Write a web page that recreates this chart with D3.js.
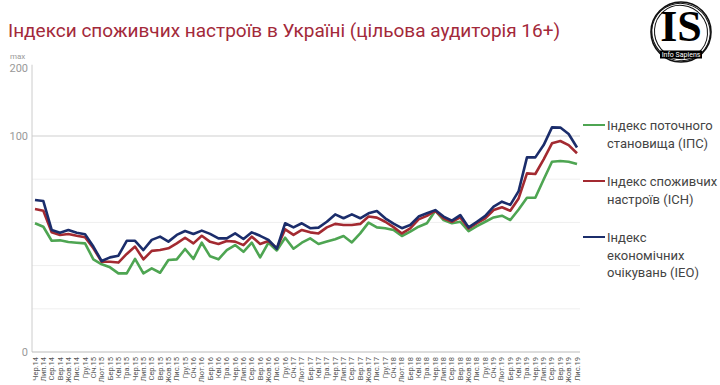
<!DOCTYPE html>
<html>
<head>
<meta charset="utf-8">
<script src="https://cdn.jsdelivr.net/npm/d3@7"></script>
<style>
  body { margin: 0; background: #fff; }
  svg { display: block; font-family: Roboto, "Noto Sans", sans-serif; }
</style>
</head>
<body>
<svg id="chart" width="720" height="385"></svg>
<script>
var months = [
  "Чер.14","Лип.14","Сер.14","Вер.14","Жов.14","Лис.14","Гру.14",
  "Січ.15","Лют.15","Бер.15","Кві.15","Тра.15","Чер.15","Лип.15","Сер.15","Вер.15","Жов.15","Лис.15","Гру.15",
  "Січ.16","Лют.16","Бер.16","Кві.16","Тра.16","Чер.16","Лип.16","Сер.16","Вер.16","Жов.16","Лис.16","Гру.16",
  "Січ.17","Лют.17","Бер.17","Кві.17","Тра.17","Чер.17","Лип.17","Сер.17","Вер.17","Жов.17","Лис.17","Гру.17",
  "Січ.18","Лют.18","Бер.18","Кві.18","Тра.18","Чер.18","Лип.18","Сер.18","Вер.18","Жов.18","Лис.18","Гру.18",
  "Січ.19","Лют.19","Бер.19","Кві.19","Тра.19","Чер.19","Лип.19","Сер.19","Вер.19","Жов.19","Лис.19"
];

// Індекс поточного становища (ІПС)
var ips = [59.6,58.0,51.5,51.7,50.9,50.6,50.3,42.9,40.6,39.2,36.4,36.4,43.1,36.4,38.7,36.7,42.6,42.9,47.7,43.1,50.6,
  44.3,42.9,47.2,49.5,46.4,50.6,43.8,50.6,47.0,52.9,47.8,50.6,52.6,50.0,51.1,52.2,53.7,50.7,54.9,59.9,57.7,57.3,
  56.5,53.7,55.7,58.0,59.6,65.4,61.1,59.6,60.3,56.0,58.3,60.3,62.3,63.1,61.1,66.0,71.4,71.4,79.9,88.1,88.4,88.1,87.0];
// Індекс споживчих настроїв (ІСН)
var ics = [66.2,65.4,55.4,54.2,54.6,53.8,53.1,48.0,41.8,41.8,41.4,45.4,48.8,42.9,46.8,47.2,48.0,50.3,52.9,50.3,53.8,
  51.0,50.0,51.4,51.1,49.5,53.4,50.0,51.4,48.0,56.8,54.2,56.5,55.4,54.9,57.7,59.3,58.8,58.8,59.3,62.7,62.2,60.3,
  57.8,54.9,57.2,61.4,63.0,65.4,61.9,60.3,62.3,57.2,59.6,61.9,65.7,67.0,65.4,71.1,82.7,82.4,89.2,96.6,97.7,95.8,92.0];
// Індекс економічних очікувань (ІЕО)
var ieo = [70.4,69.9,56.5,55.2,56.5,55.2,54.5,48.8,42.1,43.8,44.6,51.5,51.5,47.2,51.9,53.4,51.1,54.2,56.0,54.6,56.2,
  54.7,52.6,52.6,54.9,52.3,55.4,53.8,51.9,47.8,59.6,57.7,59.6,57.3,57.6,60.3,63.7,61.9,63.7,61.9,64.2,65.3,61.9,
  59.4,57.3,58.8,62.7,64.2,65.7,62.7,60.8,63.4,57.7,60.3,63.0,67.3,69.6,68.1,74.5,90.1,90.1,95.8,104.0,103.9,100.9,94.7];

var yTicks = [0, 100];
var gridValues = [20, 40, 60, 80];
var topLabel = "200";
var topValue = 133;

var series = [
  {name: ["Індекс поточного", "становища (ІПС)"], values: ips, color: "#4ea552"},
  {name: ["Індекс споживчих", "настроїв (ІСН)"], values: ics, color: "#a32a31"},
  {name: ["Індекс", "економічних", "очікувань (ІЕО)"], values: ieo, color: "#1b2d6b"}
];

var svg = d3.select("#chart");

var x = d3.scalePoint().domain(months).range([35, 577]);
var y = d3.scaleLinear().domain([0, 100]).range([352, 136]);
var left = 32, right = 580;

// title
svg.append("text")
  .attr("x", 8).attr("y", 37)
  .style("font-size", "19px")
  .style("fill", "#a3293a")
  .text("Індекси споживчих настроїв в Україні (цільова аудиторія 16+)");

// grid
svg.selectAll(".grid").data(gridValues).enter().append("line")
  .attr("class", "grid")
  .attr("x1", left).attr("x2", right)
  .attr("y1", d => y(d)).attr("y2", d => y(d))
  .style("stroke", "#efefef").style("stroke-width", 1);

svg.append("line")
  .attr("x1", left).attr("x2", right)
  .attr("y1", y(100)).attr("y2", y(100))
  .style("stroke", "#cfcfcf").style("stroke-width", 1);

// axes lines
svg.append("line")
  .attr("x1", left).attr("x2", left)
  .attr("y1", y(topValue)).attr("y2", y(0))
  .style("stroke", "#cccccc");
svg.append("line")
  .attr("x1", left).attr("x2", right)
  .attr("y1", y(0)).attr("y2", y(0))
  .style("stroke", "#bbbbbb");

// y labels
svg.selectAll(".ylab").data(yTicks).enter().append("text")
  .attr("class", "ylab")
  .attr("x", 28).attr("y", d => y(d) + 4)
  .attr("text-anchor", "end")
  .style("font-size", "11px").style("fill", "#999")
  .text(d => d);
svg.append("text")
  .attr("x", 28).attr("y", y(topValue) + 7)
  .attr("text-anchor", "end")
  .style("font-size", "11px").style("fill", "#999")
  .text(topLabel);
svg.append("text")
  .attr("x", 10).attr("y", 59)
  .style("font-size", "8px").style("fill", "#999")
  .text("max");

// x labels
svg.selectAll(".xlab").data(months).enter().append("text")
  .attr("class", "xlab")
  .attr("transform", d => "translate(" + (x(d) + 2.5) + "," + (y(0) + 5) + ") rotate(-90)")
  .attr("text-anchor", "end")
  .style("font-size", "7.5px").style("fill", "#555")
  .text(d => d);

// lines
var line = d3.line()
  .x((d, i) => x(months[i]))
  .y(d => y(d));

series.forEach(s => {
  svg.append("path")
    .datum(s.values)
    .attr("d", line)
    .style("fill", "none")
    .style("stroke", s.color)
    .style("stroke-width", 2.6)
    .style("stroke-linejoin", "round");
});

// legend
var legendY = [125, 181, 237];
series.forEach((s, k) => {
  var ly = legendY[k];
  svg.append("line")
    .attr("x1", 583).attr("x2", 605)
    .attr("y1", ly).attr("y2", ly)
    .style("stroke", s.color).style("stroke-width", 2);
  s.name.forEach((t, j) => {
    svg.append("text")
      .attr("x", 607).attr("y", ly + 5 + j * 17.5)
      .style("font-size", "13px").style("fill", "#444")
      .text(t);
  });
});

// logo
var logo = svg.append("g").attr("transform", "translate(681,32)");
[30, 28.5, 27].forEach((r, i) => {
  logo.append("ellipse")
    .attr("rx", r + (i == 1 ? 0.8 : 0)).attr("ry", r - (i == 2 ? 0.8 : 0))
    .attr("transform", "rotate(" + (i * 25) + ")")
    .style("fill", "none").style("stroke", "#111").style("stroke-width", i == 0 ? 1.6 : 1);
});
logo.append("text")
  .attr("x", 0).attr("y", 9)
  .attr("text-anchor", "middle")
  .style("font-family", "'Liberation Serif', 'DejaVu Serif', serif")
  .style("font-weight", "bold")
  .style("font-size", "44px")
  .style("fill", "#000")
  .text("IS");
logo.append("rect")
  .attr("x", -21).attr("y", 18.5).attr("width", 42).attr("height", 8)
  .style("fill", "#000");
logo.append("text")
  .attr("x", 0).attr("y", 25)
  .attr("text-anchor", "middle")
  .style("font-size", "7px").style("fill", "#fff")
  .text("Info Sapiens");
</script>
</body>
</html>
